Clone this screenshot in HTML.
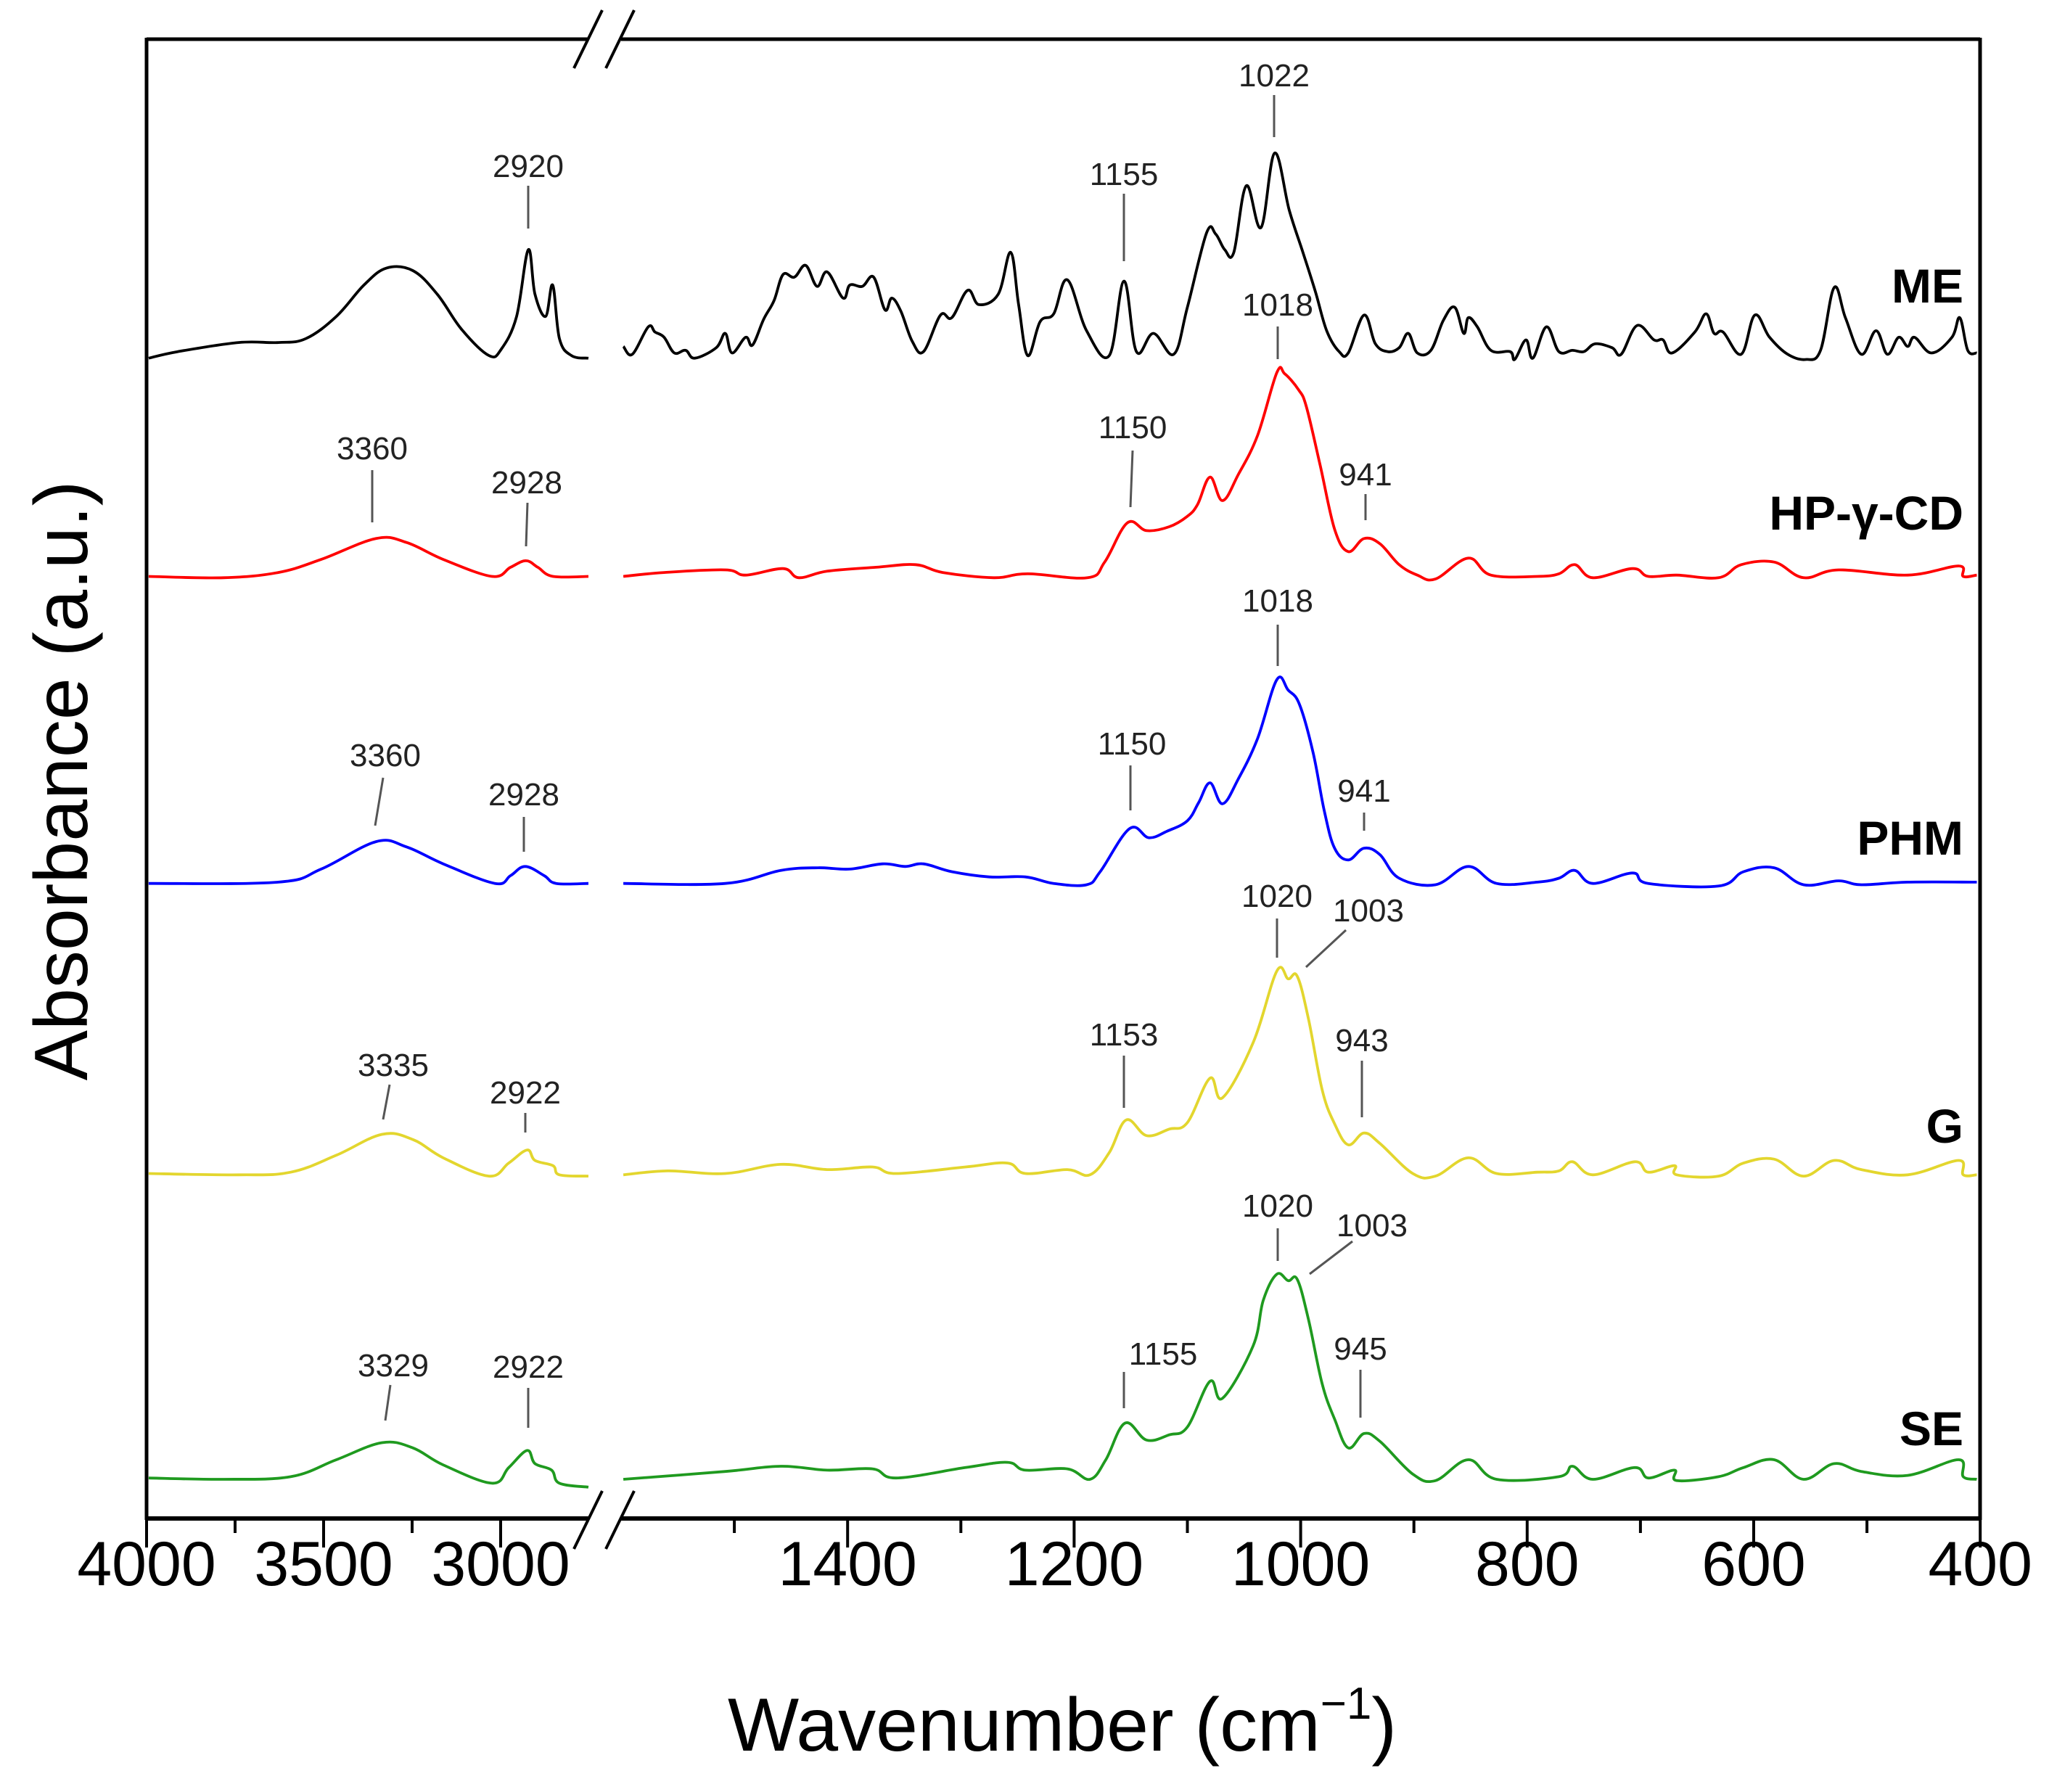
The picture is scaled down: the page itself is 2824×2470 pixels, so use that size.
<!DOCTYPE html>
<html><head><meta charset="utf-8"><title>FTIR spectra</title>
<style>
html,body{margin:0;padding:0;background:#fff;}
svg{display:block;font-family:"Liberation Sans",Arial,sans-serif;}
.ann{font-size:44px;fill:#222;text-anchor:middle;}
.al{stroke:#555;stroke-width:3;}
.lab{font-size:66px;font-weight:bold;text-anchor:end;fill:#000;}
.tick{font-size:86px;text-anchor:middle;fill:#000;}
</style></head>
<body>
<svg id="chart" width="2824" height="2470" viewBox="0 0 2824 2470" xmlns="http://www.w3.org/2000/svg">
<g id="series"></g>
<g id="axes"></g>

<g>
<text class="ann" x="728" y="244">2920</text><line class="al" x1="728" y1="256" x2="728" y2="315"/>
<text class="ann" x="1549" y="255">1155</text><line class="al" x1="1549" y1="267" x2="1549" y2="360"/>
<text class="ann" x="1756" y="119">1022</text><line class="al" x1="1756" y1="131" x2="1756" y2="189"/>
<text class="ann" x="1761" y="435">1018</text><line class="al" x1="1761" y1="450" x2="1761" y2="495"/>
<text class="ann" x="513" y="633">3360</text><line class="al" x1="513" y1="648" x2="513" y2="720"/>
<text class="ann" x="726" y="680">2928</text><line class="al" x1="727" y1="693" x2="725" y2="753"/>
<text class="ann" x="1561" y="604">1150</text><line class="al" x1="1561" y1="621" x2="1558" y2="699"/>
<text class="ann" x="1882" y="669">941</text><line class="al" x1="1882" y1="681" x2="1882" y2="717"/>
<text class="ann" x="1761" y="843">1018</text><line class="al" x1="1761" y1="861" x2="1761" y2="918"/>
<text class="ann" x="531" y="1056">3360</text><line class="al" x1="528" y1="1072" x2="517" y2="1138"/>
<text class="ann" x="722" y="1110">2928</text><line class="al" x1="722" y1="1126" x2="722" y2="1174"/>
<text class="ann" x="1560" y="1040">1150</text><line class="al" x1="1558" y1="1055" x2="1558" y2="1117"/>
<text class="ann" x="1880" y="1105">941</text><line class="al" x1="1880" y1="1120" x2="1880" y2="1145"/>
<text class="ann" x="1760" y="1250">1020</text><line class="al" x1="1760" y1="1266" x2="1760" y2="1320"/>
<text class="ann" x="1886" y="1270">1003</text><line class="al" x1="1855" y1="1282" x2="1800" y2="1333"/>
<text class="ann" x="542" y="1483">3335</text><line class="al" x1="537" y1="1495" x2="528" y2="1543"/>
<text class="ann" x="724" y="1521">2922</text><line class="al" x1="724" y1="1534" x2="724" y2="1561"/>
<text class="ann" x="1549" y="1441">1153</text><line class="al" x1="1549" y1="1455" x2="1549" y2="1527"/>
<text class="ann" x="1877" y="1449">943</text><line class="al" x1="1877" y1="1462" x2="1877" y2="1540"/>
<text class="ann" x="1761" y="1677">1020</text><line class="al" x1="1761" y1="1693" x2="1761" y2="1738"/>
<text class="ann" x="1891" y="1704">1003</text><line class="al" x1="1864" y1="1711" x2="1805" y2="1756"/>
<text class="ann" x="542" y="1897">3329</text><line class="al" x1="538" y1="1909" x2="531" y2="1958"/>
<text class="ann" x="728" y="1899">2922</text><line class="al" x1="728" y1="1913" x2="728" y2="1968"/>
<text class="ann" x="1603" y="1881">1155</text><line class="al" x1="1549" y1="1891" x2="1549" y2="1941"/>
<text class="ann" x="1875" y="1874">945</text><line class="al" x1="1875" y1="1888" x2="1875" y2="1954"/>
</g>

<g>
<text class="lab" x="2706" y="417">ME</text>
<text class="lab" x="2706" y="730">HP-γ-CD</text>
<text class="lab" x="2706" y="1178">PHM</text>
<text class="lab" x="2706" y="1575">G</text>
<text class="lab" x="2706" y="1992">SE</text>
</g>

<text x="1464" y="2413" font-size="104" text-anchor="middle">Wavenumber (cm<tspan font-size="62" dy="-44">−1</tspan><tspan dy="44">)</tspan></text>
<text transform="translate(120,1076) rotate(-90)" font-size="104" text-anchor="middle">Absorbance (a.u.)</text>
</svg>

<script>
// ---- data (absorbance in display units above each trace's baseline) ----
const seriesNames = ["ME","HP-γ-CD","PHM","G","SE"];
const seriesColors = ["#000000","#ff0000","#0000ff","#e3d62e","#1f9a1f"];
const seriesOffsets = [892, 721, 486, 263, 30];

const meLeftWn = [3994,3912,3740,3628,3550,3464,3386,3322,3248,3179,3110,3033,2998,2955,2922,2903,2873,2853,2834,2800,2752];
const meLeftAbs = [-4,1,8,8,11,28,52,65,63,45,18,-2,3,28,79,45,28,52,11,-2,-4];
const meRightWn = [1598,1590,1576,1570,1562,1553,1543,1535,1516,1508,1502,1490,1484,1474,1465,1457,1447,1437,1427,1418,1404,1398,1387,1377,1367,1361,1353,1343,1333,1318,1308,1294,1284,1267,1256,1249,1241,1230,1218,1206,1189,1169,1156,1145,1130,1112,1100,1083,1075,1067,1059,1048,1035,1023,1010,998,987,977,966,958,944,934,923,913,905,897,885,874,864,856,852,844,832,815,811,801,795,783,772,760,750,740,725,717,703,688,680,672,652,642,635,627,611,599,586,570,554,541,529,519,505,492,482,472,464,458,443,425,418,411,403];
const meRightAbs = [5,-1,20,16,12,0,2,-4,4,15,0,12,6,26,40,60,58,67,51,62,42,52,51,58,33,42,32,9,1,29,27,48,37,45,77,37,-2,24,30,56,17,-2,55,1,15,-1,35,92,91,79,77,128,96,153,109,77,47,17,1,0,29,7,1,4,15,0,2,25,35,15,27,20,2,1,-5,10,-4,20,1,2,1,7,4,-1,21,10,10,0,16,30,15,16,-1,29,12,-1,-5,2,50,27,-1,17,-1,12,5,12,0,12,27,2,0];

const hpLeftWn = [3994,3783,3628,3507,3352,3266,3162,3024,2972,2929,2895,2852,2752];
const hpLeftAbs = [0,-1,3,13,29,26,13,0,7,12,7,0,0];
const hpRightWn = [1598,1562,1508,1490,1457,1443,1418,1375,1340,1316,1271,1241,1188,1173,1153,1136,1116,1100,1091,1080,1069,1055,1038,1021,1014,1002,995,983,970,958,944,930,913,897,881,852,832,791,772,758,742,707,693,668,631,611,582,556,525,464,419,415,403];
const hpRightAbs = [0,3,5,1,6,-1,4,7,9,3,-1,2,-1,11,41,35,38,46,55,76,58,78,108,156,155,143,130,86,36,19,29,25,9,1,-2,14,1,0,2,9,-1,6,0,1,-1,9,11,-1,5,1,8,0,1];

const phmLeftWn = [3994,3628,3507,3352,3266,3162,3016,2972,2931,2877,2843,2752];
const phmLeftAbs = [0,1,11,32,28,15,0,6,13,6,0,0];
const phmRightWn = [1598,1508,1459,1426,1398,1369,1349,1333,1308,1275,1243,1218,1189,1177,1151,1134,1118,1100,1090,1080,1069,1055,1038,1021,1011,1001,989,979,970,958,944,930,913,881,852,827,791,772,758,742,707,693,631,609,582,556,525,505,464,403];
const phmRightAbs = [0,0,10,12,11,15,13,15,9,5,5,0,-1,9,42,35,40,48,62,77,61,80,111,156,148,137,100,55,27,18,27,22,4,-1,13,0,1,4,10,0,8,0,-2,9,12,-1,2,-1,1,1];

const gLeftWn = [3994,3738,3593,3464,3335,3248,3162,3033,2977,2925,2903,2852,2834,2752];
const gLeftAbs = [1,0,2,15,31,27,13,-1,9,19,11,7,0,-1];
const gRightWn = [1598,1559,1508,1459,1418,1378,1357,1296,1259,1243,1206,1186,1169,1154,1136,1116,1100,1080,1069,1042,1021,1011,1003,993,981,970,958,944,930,901,881,852,827,791,772,760,742,705,693,670,668,631,609,582,556,529,505,464,419,415,403];
const gRightAbs = [0,3,1,8,4,6,1,6,9,1,4,0,17,42,30,35,40,74,59,101,156,150,152,119,65,39,23,32,24,1,-1,13,1,2,3,10,0,10,2,7,0,-1,9,12,-1,11,4,0,11,0,0];

const seLeftWn = [3994,3783,3593,3464,3335,3248,3162,3024,2977,2925,2903,2856,2834,2752];
const seLeftAbs = [1,0,2,15,28,24,11,-3,9,22,12,7,-3,-6];
const seRightWn = [1598,1508,1459,1418,1378,1357,1296,1259,1243,1206,1186,1172,1155,1136,1116,1100,1080,1069,1042,1033,1021,1011,1003,993,981,970,958,944,930,901,881,852,827,772,760,742,705,693,670,668,631,609,582,556,529,505,464,419,415,403];
const seRightAbs = [0,6,10,7,8,1,9,13,7,8,0,15,43,30,34,40,75,62,102,137,157,152,153,122,73,46,24,35,29,4,-1,15,0,2,10,0,9,1,7,-1,2,9,15,0,12,6,3,15,2,0];

const leftTickLabels = [4000,3500,3000];
const leftMinorTicks = [3750,3250];
const rightTickLabels = [1400,1200,1000,800,600,400];
const rightMinorTicks = [1500,1300,1100,900,700,500];

// ---- axis functions ----
const PL=202, PR=2729, PT=54, PB=2093;
function xLeft(w){ return PL + (4000 - w) * 0.488; }
function xRight(w){ return 856 + (1600 - w) * 1.561; }
function yVal(v){ return PB - v * 1.801; }

const NS="http://www.w3.org/2000/svg";
const gS=document.getElementById('series');
const gA=document.getElementById('axes');

const leftData=[[meLeftWn,meLeftAbs],[hpLeftWn,hpLeftAbs],[phmLeftWn,phmLeftAbs],[gLeftWn,gLeftAbs],[seLeftWn,seLeftAbs]];
const rightData=[[meRightWn,meRightAbs],[hpRightWn,hpRightAbs],[phmRightWn,phmRightAbs],[gRightWn,gRightAbs],[seRightWn,seRightAbs]];

function pathFor(wn, ab, xf, off){
  const n=Math.min(wn.length,ab.length);
  const pts=[];
  for(let i=0;i<n;i++) pts.push([xf(wn[i]), yVal(off+ab[i])]);
  let d='M'+pts[0][0].toFixed(1)+','+pts[0][1].toFixed(1);
  const t=0.18;
  for(let i=0;i<n-1;i++){
    const p0=pts[Math.max(0,i-1)], p1=pts[i], p2=pts[i+1], p3=pts[Math.min(n-1,i+2)];
    const c1x=p1[0]+(p2[0]-p0[0])*t, c1y=p1[1]+(p2[1]-p0[1])*t;
    const c2x=p2[0]-(p3[0]-p1[0])*t, c2y=p2[1]-(p3[1]-p1[1])*t;
    d+='C'+c1x.toFixed(1)+','+c1y.toFixed(1)+' '+c2x.toFixed(1)+','+c2y.toFixed(1)+' '+p2[0].toFixed(1)+','+p2[1].toFixed(1);
  }
  return d;
}
for(let s=0;s<seriesNames.length;s++){
  const segs=[[leftData[s],xLeft],[rightData[s],xRight]];
  for(const [dat,xf] of segs){
    const p=document.createElementNS(NS,'path');
    p.setAttribute('d',pathFor(dat[0],dat[1],xf,seriesOffsets[s]));
    p.setAttribute('fill','none');
    p.setAttribute('stroke',seriesColors[s]);
    p.setAttribute('stroke-width','3.8');
    p.setAttribute('stroke-linejoin','round');
    
    
    gS.appendChild(p);
  }
}

function line(x1,y1,x2,y2,w,name){
  const l=document.createElementNS(NS,'line');
  l.setAttribute('x1',x1);l.setAttribute('y1',y1);l.setAttribute('x2',x2);l.setAttribute('y2',y2);
  l.setAttribute('stroke','#000');l.setAttribute('stroke-width',w);
  
  
  gA.appendChild(l);
}
line(PL,PT-2,PL,PB+2,5,'left-spine');
line(PR,PT-2,PR,PB+2,5,'right-spine');
line(PL,PT,811,PT,5,'top-spine-left');
line(856,PT,PR,PT,5,'top-spine-right');
line(PL,PB,811,PB,6,'x-axis-left');
line(856,PB,PR,PB,6,'x-axis-right');
line(791,2135,830,2055,4,'axis-break-mark');
line(835,2135,874,2055,4,'axis-break-mark');
line(791,94,830,14,4,'axis-break-mark');
line(835,94,874,14,4,'axis-break-mark');
function tickLabel(x,t){
  const e=document.createElementNS(NS,'text');
  e.setAttribute('x',x);e.setAttribute('y',2185);
  e.setAttribute('class','tick');
  
  
  e.textContent=t;
  gA.appendChild(e);
}
leftTickLabels.forEach(w=>{ line(xLeft(w),PB,xLeft(w),PB+40,4,'x-major-tick'); tickLabel(xLeft(w),w); });
leftMinorTicks.forEach(w=>{ line(xLeft(w),PB,xLeft(w),PB+20,4,'x-minor-tick'); });
rightTickLabels.forEach(w=>{ line(xRight(w),PB,xRight(w),PB+40,4,'x-major-tick'); tickLabel(xRight(w),w); });
rightMinorTicks.forEach(w=>{ line(xRight(w),PB,xRight(w),PB+20,4,'x-minor-tick'); });
</script>
</body></html>
